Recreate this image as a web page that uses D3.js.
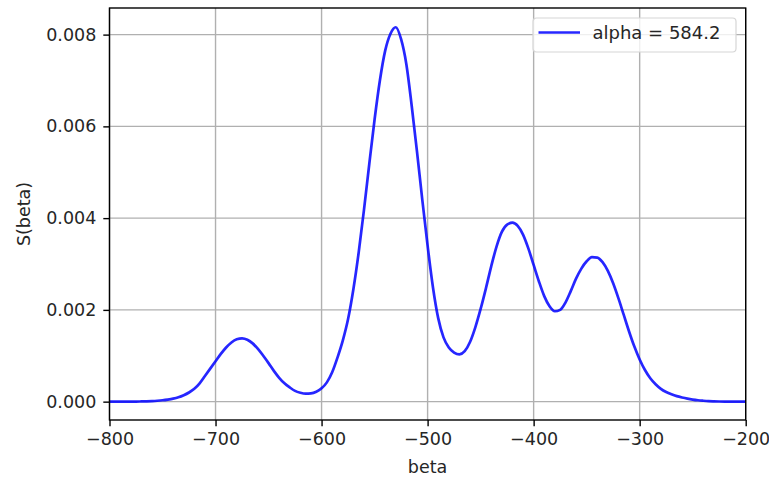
<!DOCTYPE html>
<html>
<head>
<meta charset="utf-8">
<script src="https://cdn.jsdelivr.net/npm/d3@7"></script>
<style>
  body { margin: 0; background: #fff; }
  text { font-family: "DejaVu Sans", sans-serif; }
</style>
</head>
<body>
<div class="container"></div>
<script>
// values, beta every 5 units
let betas = [
  -800, -795, -790, -785, -780, -775, -770, -765, -760, -755, -750, -745, -740, -735, -730, -725,
  -720, -715, -710, -705, -700, -695, -690, -685, -680, -675, -670, -665, -660, -655, -650, -645,
  -640, -635, -630, -625, -620, -615, -610, -605, -600, -595, -590, -585, -580, -575, -570, -565,
  -560, -555, -550, -545, -540, -535, -530, -525, -520, -515, -510, -505, -500, -495, -490, -485,
  -480, -475, -470, -465, -460, -455, -450, -445, -440, -435, -430, -425, -420, -415, -410, -405,
  -400, -395, -390, -385, -380, -375, -370, -365, -360, -355, -350, -345, -340, -335, -330, -325,
  -320, -315, -310, -305, -300, -295, -290, -285, -280, -275, -270, -265, -260, -255, -250, -245,
  -240, -235, -230, -225, -220, -215, -210, -205, -200
];

let sValues = [
  0, 0, 0, 0, 0, 0.000002, 0.000004, 0.000008, 0.000013, 0.00002, 0.00003, 0.000045, 0.000065, 0.000095, 0.00014, 0.0002,
  0.00028, 0.0004, 0.00056, 0.00072, 0.00088, 0.00104, 0.00118, 0.00129, 0.00136, 0.00138, 0.00135, 0.00127, 0.00115, 0.001, 0.00084, 0.00067,
  0.00052, 0.0004, 0.00031, 0.000235, 0.000195, 0.000175, 0.00018, 0.000215, 0.00029, 0.00042, 0.00064, 0.00096, 0.00133, 0.0018, 0.00245, 0.00325,
  0.00418, 0.00518, 0.00615, 0.007, 0.00765, 0.00802, 0.00816, 0.0079, 0.00735, 0.00645, 0.00545, 0.0044, 0.0034, 0.0025, 0.00182, 0.0014,
  0.00118, 0.00107, 0.00103, 0.0011, 0.0013, 0.00162, 0.00202, 0.00247, 0.00295, 0.00338, 0.0037, 0.00386, 0.0039, 0.00383, 0.00364, 0.00334,
  0.00298, 0.00262, 0.0023, 0.00208, 0.00197, 0.002, 0.00216, 0.00241, 0.00268, 0.0029, 0.00306, 0.00315, 0.00314, 0.00304, 0.00285, 0.00258,
  0.00225, 0.00189, 0.00153, 0.0012, 0.00092, 0.00069, 0.00051, 0.00038, 0.00028, 0.00021, 0.00016, 0.00012, 0.00009, 0.000065, 0.000045, 0.00003,
  0.00002, 0.000012, 0.000007, 0.000003, 0.000001, 0, 0, 0, 0
];

let xTicks = [-800, -700, -600, -500, -400, -300, -200],
    yTicks = [0, 0.002, 0.004, 0.006, 0.008];

let seriesLabel = 'alpha = 584.2';

let data = betas.map((b, i) => ({ beta: b, s: sValues[i] }));

let width = 769,
    height = 479,
    margin = { top: 8, right: 23.3, bottom: 59, left: 109.5 },
    plotW = width - margin.left - margin.right,
    plotH = height - margin.top - margin.bottom;

let svg = d3.select('.container')
            .append('svg')
            .attr('width', width)
            .attr('height', height);

let xScale = d3.scaleLinear()
               .domain([-800, -200])
               .range([0, plotW]);

let yScale = d3.scaleLinear()
               .domain([-0.0004, 0.00858])
               .range([plotH, 0]);

let g = svg.append('g')
           .attr('transform', `translate(${margin.left}, ${margin.top})`);

// grid
g.append('g')
  .selectAll('line')
  .data(xTicks)
  .enter()
  .append('line')
  .attr('x1', d => xScale(d))
  .attr('x2', d => xScale(d))
  .attr('y1', 0)
  .attr('y2', plotH)
  .style('stroke', '#b0b0b0')
  .style('stroke-width', 1.4);

g.append('g')
  .selectAll('line')
  .data(yTicks)
  .enter()
  .append('line')
  .attr('x1', 0)
  .attr('x2', plotW)
  .attr('y1', d => yScale(d))
  .attr('y2', d => yScale(d))
  .style('stroke', '#b0b0b0')
  .style('stroke-width', 1.4);

let line = d3.line()
             .x(d => xScale(d.beta))
             .y(d => yScale(d.s))
             .curve(d3.curveMonotoneX);

g.append('path')
  .datum(data)
  .attr('d', line)
  .style('fill', 'none')
  .style('stroke', '#0000ff')
  .style('stroke-opacity', 0.85)
  .style('stroke-width', 2.7);

// axes
let xAxis = d3.axisBottom(xScale)
              .tickValues(xTicks)
              .tickSize(6.2)
              .tickPadding(6)
              .tickFormat(d3.format('d'));

let yAxis = d3.axisLeft(yScale)
              .tickValues(yTicks)
              .tickSize(6.2)
              .tickPadding(7)
              .tickFormat(d3.format('.3f'));

g.append('g')
  .attr('transform', `translate(0, ${plotH})`)
  .call(xAxis);

g.append('g')
  .call(yAxis);

g.selectAll('.domain').remove();
g.selectAll('.tick line').style('stroke', '#000').style('stroke-width', 1.4);
g.selectAll('.tick text')
  .style('font-family', '"DejaVu Sans", sans-serif')
  .style('font-size', '17.5px')
  .style('fill', '#262626');

// spines
g.append('rect')
  .attr('x', 0)
  .attr('y', 0)
  .attr('width', plotW)
  .attr('height', plotH)
  .style('fill', 'none')
  .style('stroke', '#000')
  .style('stroke-width', 1.4);

// axis labels
svg.append('text')
   .attr('x', margin.left + plotW / 2)
   .attr('y', 473)
   .style('text-anchor', 'middle')
   .style('font-size', '17.5px')
   .style('fill', '#262626')
   .text('beta');

svg.append('text')
   .attr('transform', `translate(30, ${margin.top + plotH / 2}) rotate(-90)`)
   .style('text-anchor', 'middle')
   .style('font-size', '17.5px')
   .style('fill', '#262626')
   .text('S(beta)');

// legend
let legend = svg.append('g')
                .attr('transform', 'translate(533, 18)');

legend.append('rect')
  .attr('width', 203)
  .attr('height', 34)
  .attr('rx', 3.5)
  .style('fill', '#fff')
  .style('fill-opacity', 0.8)
  .style('stroke', '#d6d6d6')
  .style('stroke-width', 1.2);

legend.append('line')
  .attr('x1', 5.5)
  .attr('x2', 47)
  .attr('y1', 14.5)
  .attr('y2', 14.5)
  .style('stroke', '#0000ff')
  .style('stroke-opacity', 0.85)
  .style('stroke-width', 2.7);

legend.append('text')
  .attr('x', 59.5)
  .attr('y', 20.5)
  .style('font-size', '18px')
  .style('fill', '#262626')
  .text(seriesLabel);
</script>
</body>
</html>
